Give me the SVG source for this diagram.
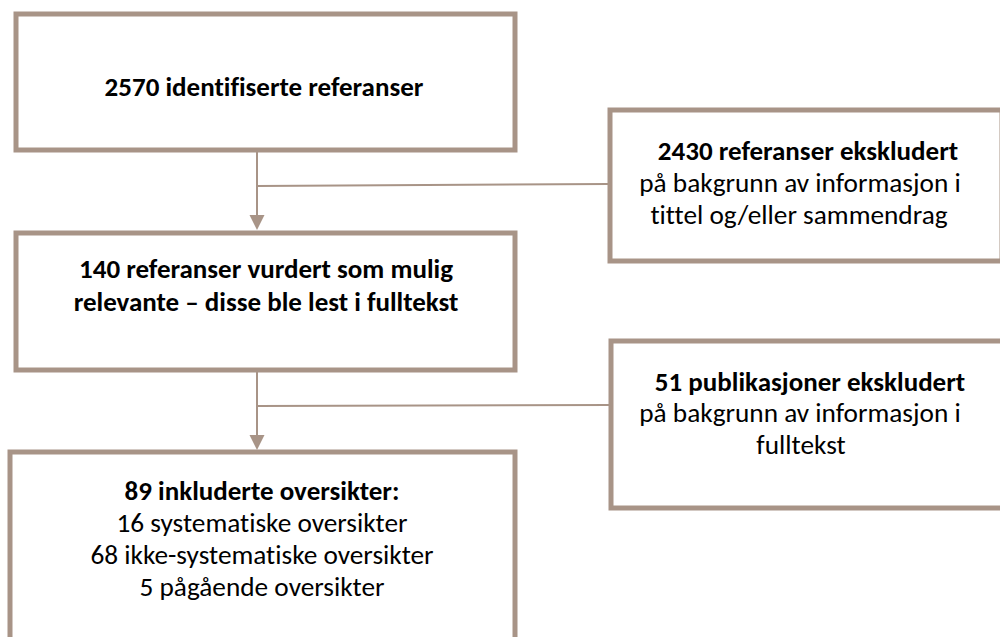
<svg xmlns="http://www.w3.org/2000/svg" width="1000" height="637" viewBox="0 0 1000 637">
<defs>
<style>
.box{fill:#fff;stroke:#a89487;stroke-width:5}
.con{fill:none;stroke:#a89487;stroke-width:2}
.head{fill:#a89487}
text{font-family:Carlito,Calibri,Lato,"Liberation Sans",sans-serif;font-size:27.3px;fill:#000;text-anchor:middle;font-variant-ligatures:none;font-feature-settings:"liga" 0}
.b{font-weight:bold;font-size:27px}
</style>
</defs>
<rect width="1000" height="637" fill="#fff"/>
<g id="connectors">
<line class="con" x1="257" y1="150" x2="257" y2="216"/>
<line class="con" x1="257" y1="186" x2="609" y2="184"/>
<polygon class="head" points="249.5,215 264.5,215 257,230"/>
<line class="con" x1="257" y1="370" x2="257" y2="436"/>
<line class="con" x1="257" y1="406" x2="610" y2="405"/>
<polygon class="head" points="249.5,435 264.5,435 257,450"/>
</g>
<g id="n1">
<rect class="box" x="16" y="14" width="499" height="136"/>
<text class="b" x="264" y="96">2570 identifiserte referanser</text>
</g>
<g id="n2">
<rect class="box" x="16" y="233" width="499" height="137"/>
<text class="b" x="266" y="278">140 referanser vurdert som mulig</text>
<text class="b" x="266" y="311">relevante – disse ble lest i fulltekst</text>
</g>
<g id="n3">
<rect class="box" x="10" y="452" width="505" height="200"/>
<text class="b" x="262" y="500">89 inkluderte oversikter:</text>
<text x="262" y="532">16 systematiske oversikter</text>
<text x="262" y="564">68 ikke-systematiske oversikter</text>
<text x="262" y="596">5 pågående oversikter</text>
</g>
<g id="r1">
<rect class="box" x="610" y="110" width="392" height="151"/>
<text class="b" x="808" y="160">2430 referanser ekskludert</text>
<text x="800" y="192">på bakgrunn av informasjon i</text>
<text x="799" y="224">tittel og/eller sammendrag</text>
</g>
<g id="r2">
<rect class="box" x="611" y="341" width="395" height="167"/>
<text class="b" x="810" y="391">51 publikasjoner ekskludert</text>
<text x="800" y="422">på bakgrunn av informasjon i</text>
<text x="801" y="454">fulltekst</text>
</g>
</svg>
